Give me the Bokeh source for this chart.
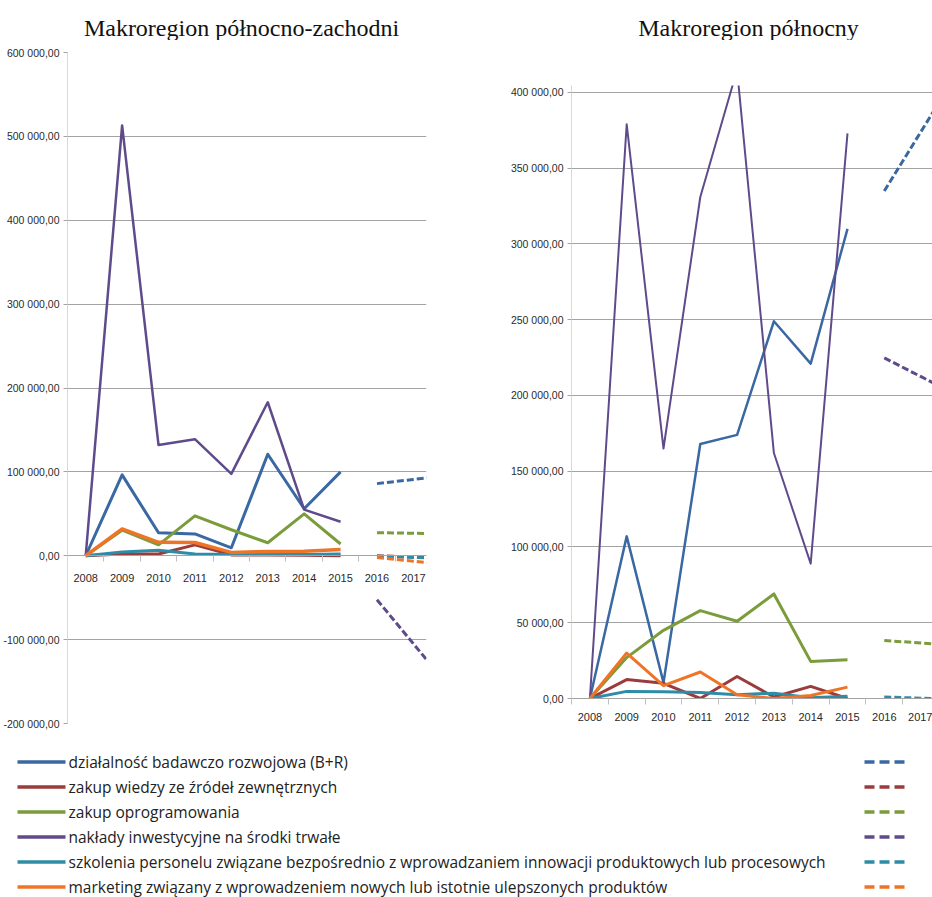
from bokeh.plotting import figure
from bokeh.models import FixedTicker, Range1d
from bokeh.layouts import row, column
from bokeh.embed import file_html
from bokeh.resources import INLINE
from bokeh.core.properties import value

# ---------------- data ----------------
years = [2008, 2009, 2010, 2011, 2012, 2013, 2014, 2015]
proj_years = [2016, 2017, 2018]
axis_years = [2008, 2009, 2010, 2011, 2012, 2013, 2014, 2015, 2016, 2017]

titles = ["Makroregion północno-zachodni", "Makroregion północny"]

series_names = [
    "działalność badawczo rozwojowa (B+R)",
    "zakup wiedzy ze źródeł zewnętrznych",
    "zakup oprogramowania",
    "nakłady inwestycyjne na środki trwałe",
    "szkolenia personelu związane bezpośrednio z wprowadzaniem innowacji produktowych lub procesowych",
    "marketing związany z wprowadzeniem nowych lub istotnie ulepszonych produktów",
]
series_colors = ["#3A68A2", "#9C3B3B", "#7B9C3A", "#5F4B8B", "#2F8CA6", "#EE7527"]

# Makroregion północno-zachodni
nw_br = [0, 96400, 27400, 26000, 9500, 121000, 56000, 100000]
nw_wiedza = [0, 2000, 2000, 13000, 1000, 1000, 500, 0]
nw_oprog = [0, 30500, 13000, 47600, 31000, 15500, 50000, 14000]
nw_inwest = [0, 513000, 132000, 139000, 97600, 183000, 55000, 40500]
nw_szkol = [0, 4500, 6500, 2000, 1500, 1500, 1500, 2000]
nw_market = [0, 32000, 16000, 15800, 4000, 5000, 5500, 7500]

nw_br_proj = [86000, 91000, 96000]
nw_wiedza_proj = [0, -1500, -3000]
nw_oprog_proj = [27500, 26800, 26100]
nw_inwest_proj = [-52400, -104900, -157400]
nw_szkol_proj = [-500, -2000, -3500]
nw_market_proj = [-2000, -6500, -11000]

# Makroregion północny
n_br = [0, 107000, 10500, 168000, 174000, 249000, 221000, 310000]
n_wiedza = [0, 12500, 10000, 0, 14500, 1000, 8000, 0]
n_oprog = [0, 27000, 45000, 58000, 51000, 69000, 24500, 25500]
n_inwest = [0, 379000, 165000, 331000, 415000, 162000, 89000, 373000]
n_szkol = [0, 4700, 4500, 4000, 2500, 3500, 500, 1500]
n_market = [0, 30000, 8500, 17500, 2500, 0, 2000, 7500]

n_br_proj = [335000, 374300, 413500]
n_wiedza_proj = [-3000, -6000, -9000]
n_oprog_proj = [38300, 36600, 34900]
n_inwest_proj = [224800, 212400, 200000]
n_szkol_proj = [1000, 200, -600]
n_market_proj = [-2000, -5000, -8000]

nw_ticks = [-200000, -100000, 0, 100000, 200000, 300000, 400000, 500000, 600000]
n_ticks = [0, 50000, 100000, 150000, 200000, 250000, 300000, 350000, 400000]

# ---------------- helpers ----------------
NUM_FONT = "Liberation Sans"
GRID = "#A3A3A3"


def fmt(v):
    return f"{v:,.2f}".replace(",", " ").replace(".", ",")


def blank_fig(width, height):
    f = figure(width=width, height=height, x_range=Range1d(0, width), y_range=Range1d(height, 0),
               output_backend="svg", toolbar_location=None, tools="", min_border=0)
    f.frame_align = False
    f.axis.visible = False
    f.grid.visible = False
    f.outline_line_color = None
    return f


def title_fig(text, width, height, cx, baseline):
    f = blank_fig(width, height)
    f.text(x=[cx], y=[baseline], text=[text], text_font=value("Liberation Serif"),
           text_font_size="24px", text_align="center", text_baseline="alphabetic",
           text_color="#111111")
    return f


def make_chart(width, height, xr, yr, yticks, borders, zero_axis, xstandoff,
               actual, proj, widths):
    left, top, right, bottom = borders
    p = figure(width=width, height=height, x_range=Range1d(*xr), y_range=Range1d(*yr),
               output_backend="svg", toolbar_location=None, tools="",
               min_border_left=left, min_border_top=top,
               min_border_right=right, min_border_bottom=bottom)
    p.frame_align = False
    p.outline_line_color = None
    p.background_fill_color = "white"
    p.border_fill_color = "white"

    yt = FixedTicker(ticks=yticks, minor_ticks=[])
    p.yaxis.ticker = yt
    p.yaxis.major_label_overrides = {t: fmt(t) for t in yticks}
    p.yaxis.major_label_text_font = NUM_FONT
    p.yaxis.major_label_text_font_size = "10.5px"
    p.yaxis.major_label_text_color = "#2A2A2A"
    p.yaxis.axis_line_color = "#D9D9D9"
    p.yaxis.major_tick_line_color = GRID
    p.yaxis.major_tick_out = 4
    p.yaxis.major_tick_in = 0
    p.yaxis.major_label_standoff = 4
    p.ygrid.ticker = yt
    p.ygrid.grid_line_color = GRID
    p.xgrid.visible = False

    xt = FixedTicker(ticks=axis_years, minor_ticks=[y - 0.5 for y in axis_years] + [axis_years[-1] + 0.5])
    p.xaxis.ticker = xt
    p.xaxis.major_label_overrides = {y: str(y) for y in axis_years}
    p.xaxis.major_label_text_font = NUM_FONT
    p.xaxis.major_label_text_font_size = "11px"
    p.xaxis.major_label_text_color = "#2A2A2A"
    p.xaxis.axis_line_color = GRID
    p.xaxis.major_tick_out = 0
    p.xaxis.major_tick_in = 0
    p.xaxis.minor_tick_out = 6
    p.xaxis.minor_tick_in = 0
    p.xaxis.minor_tick_line_color = "#BFBFBF"
    p.xaxis.major_label_standoff = xstandoff
    if zero_axis:
        p.xaxis.fixed_location = 0

    for vals, col, w in zip(actual, series_colors, widths):
        p.line(years, vals, line_color=col, line_width=w, line_join="round")
    for vals, col in zip(proj, series_colors):
        p.line(proj_years, vals, line_color=col, line_width=3, line_dash="7 3")
    return p


TITLE_H = 40
CHART_H = 696
LEFT_W, RIGHT_W = 480, 452

t1 = title_fig(titles[0], LEFT_W, TITLE_H, 241, 27)
t2 = title_fig(titles[1], RIGHT_W, TITLE_H, 268, 27)

p1 = make_chart(LEFT_W, CHART_H,
                (2007.5, 2017.36), (-200000, 600000), nw_ticks,
                (67, 12, 54, 13), True, 12,
                [nw_br, nw_wiedza, nw_oprog, nw_inwest, nw_szkol, nw_market],
                [nw_br_proj, nw_wiedza_proj, nw_oprog_proj, nw_inwest_proj, nw_szkol_proj, nw_market_proj],
                [3, 3, 3, 2.5, 3, 3.5])

p2 = make_chart(RIGHT_W, CHART_H,
                (2007.5, 2017.31), (0, 404600), n_ticks,
                (91, 45, 0, 38), False, 8,
                [n_br, n_wiedza, n_oprog, n_inwest, n_szkol, n_market],
                [n_br_proj, n_wiedza_proj, n_oprog_proj, n_inwest_proj, n_szkol_proj, n_market_proj],
                [2.5, 3, 3, 2, 3, 3])

# ---------------- legend ----------------
LEG_H = 161
p3 = blank_fig(932, LEG_H)
n = len(series_names)
ys = [25.5 + 25 * i for i in range(n)]
p3.segment(x0=[17] * n, x1=[65] * n, y0=ys, y1=ys, line_color=series_colors, line_width=3.5)
p3.segment(x0=[864] * n, x1=[908] * n, y0=ys, y1=ys, line_color=series_colors,
           line_width=3.5, line_dash="10 5")
p3.text(x=[68] * n, y=ys, text=series_names, text_font=value("Open Sans"),
        text_font_size="15.5px", text_baseline="middle", text_align="left",
        text_color="#222222")

layout = column(row(t1, t2), row(p1, p2), p3)
open("out.html", "w").write(file_html(layout, INLINE))
